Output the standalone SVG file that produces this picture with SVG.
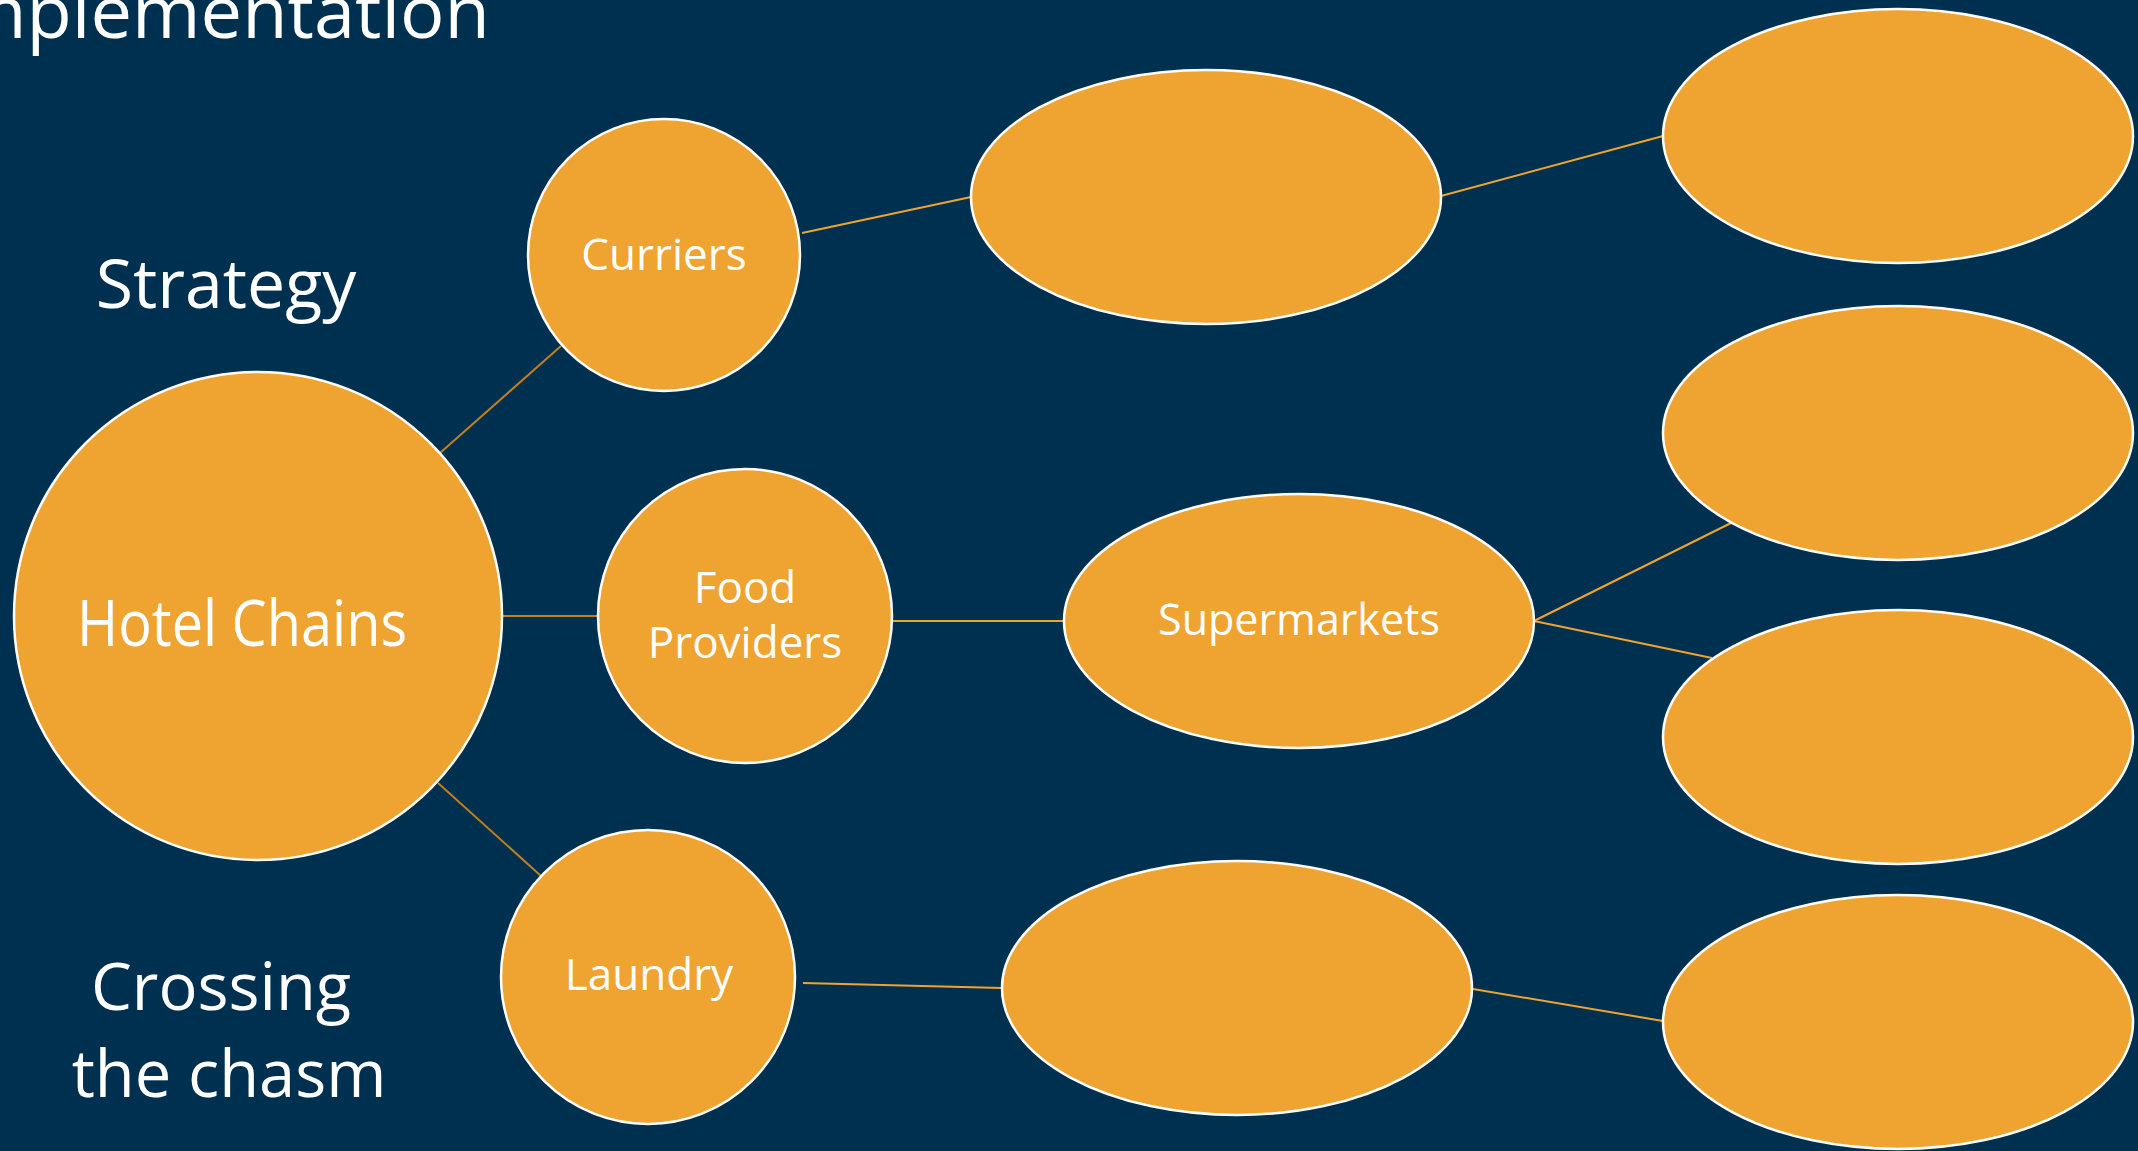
<svg xmlns="http://www.w3.org/2000/svg" width="2138" height="1151" viewBox="0 0 2138 1151">
  <style>
    .node { fill: #EFA330; stroke: #FFFFFF; stroke-width: 2.5; }
    .label { fill: #FFFFFF; font-family: "Open Sans", "Noto Sans", "DejaVu Sans", sans-serif; text-anchor: middle; }
    .title { fill: #FFFFFF; font-family: "Open Sans", "Noto Sans", "DejaVu Sans", sans-serif; text-anchor: middle; }
    .link { stroke: #EFA330; stroke-width: 2; fill: none; }
    .link-root { stroke: #C0801E; stroke-width: 2; fill: none; }
  </style>

  <!-- background -->
  <rect x="0" y="0" width="2138" height="1151" fill="#003050"/>

  <!-- side headings -->
  <text class="title" x="490" y="38" font-size="74" text-anchor="end" style="text-anchor:end">Implementation</text>
  <text class="title" x="226" y="308" font-size="68">Strategy</text>
  <text class="title" x="221" y="1010" font-size="65">Crossing</text>
  <text class="title" x="229" y="1097" font-size="65">the chasm</text>

  <!-- connectors -->
  <g id="connectors">
    <line class="link-root" x1="440" y1="453" x2="561" y2="346"/>
    <line class="link-root" x1="502" y1="616" x2="598" y2="616"/>
    <line class="link-root" x1="438" y1="783" x2="541" y2="876"/>
    <line class="link" x1="802" y1="233" x2="971" y2="197"/>
    <line class="link" x1="1441" y1="196" x2="1663" y2="136"/>
    <line class="link" x1="892" y1="621" x2="1064" y2="621"/>
    <line class="link" x1="1534" y1="621" x2="1731" y2="523"/>
    <line class="link" x1="1534" y1="621" x2="1712" y2="658"/>
    <line class="link" x1="803" y1="983" x2="1002" y2="988"/>
    <line class="link" x1="1473" y1="989" x2="1663" y2="1021"/>
  </g>

  <!-- root -->
  <g id="hotel-chains">
    <circle class="node" cx="258" cy="616" r="244"/>
    <text class="label" x="242" y="646" font-size="64" textLength="330" lengthAdjust="spacingAndGlyphs">Hotel Chains</text>
  </g>

  <!-- first level -->
  <g id="curriers">
    <circle class="node" cx="664" cy="255" r="136"/>
    <text class="label" x="664" y="270" font-size="44">Curriers</text>
  </g>
  <g id="food-providers">
    <circle class="node" cx="745" cy="616" r="147"/>
    <text class="label" x="745" y="603" font-size="44">Food</text>
    <text class="label" x="745" y="658" font-size="44">Providers</text>
  </g>
  <g id="laundry">
    <circle class="node" cx="648" cy="977" r="147"/>
    <text class="label" x="649" y="990" font-size="44">Laundry</text>
  </g>

  <!-- second level -->
  <g id="curriers-child">
    <ellipse class="node" cx="1206" cy="197" rx="235" ry="127"/>
  </g>
  <g id="supermarkets">
    <ellipse class="node" cx="1299" cy="621" rx="235" ry="127"/>
    <text class="label" x="1299" y="635" font-size="43">Supermarkets</text>
  </g>
  <g id="laundry-child">
    <ellipse class="node" cx="1237" cy="988" rx="235" ry="127"/>
  </g>

  <!-- third level -->
  <g id="leaf-1">
    <ellipse class="node" cx="1898" cy="136" rx="235" ry="127"/>
  </g>
  <g id="leaf-2">
    <ellipse class="node" cx="1898" cy="433" rx="235" ry="127"/>
  </g>
  <g id="leaf-3">
    <ellipse class="node" cx="1898" cy="737" rx="235" ry="127"/>
  </g>
  <g id="leaf-4">
    <ellipse class="node" cx="1898" cy="1022" rx="235" ry="127"/>
  </g>
</svg>
